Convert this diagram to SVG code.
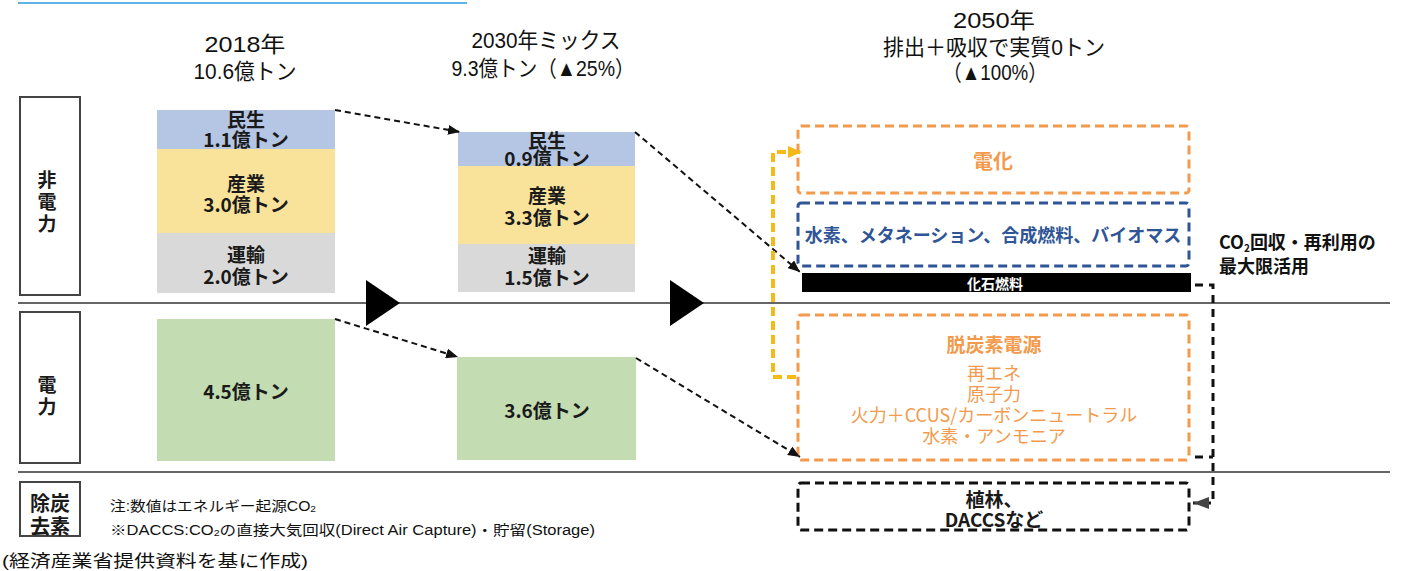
<svg xmlns="http://www.w3.org/2000/svg" width="1413" height="571" viewBox="0 0 1413 571">
<style>
.jp{font-family:'Noto Sans CJK JP',sans-serif}
.hd{font-family:'Liberation Sans','Noto Sans CJK JP',sans-serif;font-size:22px;fill:#111;text-anchor:middle;dominant-baseline:central}
.bl{font-family:'Noto Sans CJK JP',sans-serif;font-size:19px;font-weight:bold;fill:#1a1a1a;text-anchor:middle;dominant-baseline:central}
.or{font-family:'Noto Sans CJK JP',sans-serif;fill:#F39A4C;text-anchor:middle;dominant-baseline:central}
.note{font-family:'Liberation Sans','Noto Sans CJK JP',sans-serif;fill:#111;dominant-baseline:central}
.sep{stroke:#666;stroke-width:2}
.lbox{fill:none;stroke:#444;stroke-width:2}
.dash{fill:none;stroke:#111;stroke-width:2;stroke-dasharray:6 4}
.obox{fill:none;stroke:#F39A4C;stroke-width:3;stroke-dasharray:9 5}
.bbox{fill:none;stroke:#2F5597;stroke-width:3;stroke-dasharray:9 5}
.kbox{fill:none;stroke:#111;stroke-width:3;stroke-dasharray:9 5}
</style>
<defs>
<marker id="ah" markerUnits="userSpaceOnUse" markerWidth="12" markerHeight="10" viewBox="0 0 12 10" refX="12" refY="5" orient="auto"><path d="M0,0 L12,5 L0,10 z" fill="#111"/></marker>
<marker id="ahy" markerUnits="userSpaceOnUse" markerWidth="14" markerHeight="12" viewBox="0 0 14 12" refX="14" refY="6" orient="auto"><path d="M0,0 L14,6 L0,12 z" fill="#F5B918"/></marker>
<marker id="ahg" markerUnits="userSpaceOnUse" markerWidth="16" markerHeight="12" viewBox="0 0 16 12" refX="16" refY="6" orient="auto"><path d="M0,0 L16,6 L0,12 z" fill="#444"/></marker>
</defs>
<rect width="1413" height="571" fill="#fff"/>
<line x1="18" y1="3" x2="467" y2="3" stroke="#2A9BDB" stroke-width="1.5"/>

<g id="headers">
<text class="hd" x="245" y="44" textLength="81" lengthAdjust="spacingAndGlyphs">2018年</text>
<text class="hd" x="245" y="71" textLength="103" lengthAdjust="spacingAndGlyphs">10.6億トン</text>
<text class="hd" x="546" y="40" textLength="149" lengthAdjust="spacingAndGlyphs">2030年ミックス</text>
<text class="hd" x="543" y="68" textLength="183" lengthAdjust="spacingAndGlyphs">9.3億トン（▲25%）</text>
<text class="hd" x="994" y="20" textLength="82" lengthAdjust="spacingAndGlyphs">2050年</text>
<text class="hd" x="994" y="47" textLength="222" lengthAdjust="spacingAndGlyphs">排出＋吸収で実質0トン</text>
<text class="hd" x="995" y="72" textLength="104" lengthAdjust="spacingAndGlyphs">（▲100%）</text>
</g>

<g id="separators">
<line class="sep" x1="18" y1="303" x2="1390" y2="303"/>
<line class="sep" x1="18" y1="472" x2="1390" y2="472"/>
<polygon points="366,280 400,303 366,326" fill="#000"/>
<polygon points="670,280 704,303 670,326" fill="#000"/>
</g>

<g id="label-hidenryoku">
<rect class="lbox" x="20" y="97" width="60" height="198"/>
<text class="bl" x="47" y="178"><tspan x="47" y="178">非</tspan><tspan x="47" y="200">電</tspan><tspan x="47" y="222">力</tspan></text>
</g>
<g id="label-denryoku">
<rect class="lbox" x="20" y="312" width="60" height="151"/>
<text class="bl"><tspan x="47" y="383">電</tspan><tspan x="47" y="405">力</tspan></text>
</g>
<g id="label-jotanso">
<rect class="lbox" x="20" y="482" width="60" height="54"/>
<text class="bl" style="font-size:20px"><tspan x="50" y="502">除炭</tspan><tspan x="50" y="525">去素</tspan></text>
</g>

<g id="bar2018-minsei">
<rect x="157" y="110" width="178" height="39" fill="#B4C6E4"/>
<text class="bl"><tspan x="246" y="118">民生</tspan><tspan x="246" y="138">1.1億トン</tspan></text>
</g>
<g id="bar2018-sangyo">
<rect x="157" y="149" width="178" height="84" fill="#F9E29A"/>
<text class="bl"><tspan x="246" y="182">産業</tspan><tspan x="246" y="203">3.0億トン</tspan></text>
</g>
<g id="bar2018-unyu">
<rect x="157" y="233" width="178" height="60" fill="#D9D9D9"/>
<text class="bl"><tspan x="246" y="253">運輸</tspan><tspan x="246" y="275">2.0億トン</tspan></text>
</g>
<g id="bar2018-denryoku">
<rect x="157" y="319" width="178" height="142" fill="#C3DCB1"/>
<text class="bl" x="246" y="390">4.5億トン</text>
</g>

<g id="bar2030-minsei">
<rect x="458" y="132" width="177" height="34" fill="#B4C6E4"/>
<text class="bl"><tspan x="547" y="139">民生</tspan><tspan x="547" y="157">0.9億トン</tspan></text>
</g>
<g id="bar2030-sangyo">
<rect x="458" y="166" width="177" height="78" fill="#F9E29A"/>
<text class="bl"><tspan x="547" y="194">産業</tspan><tspan x="547" y="216">3.3億トン</tspan></text>
</g>
<g id="bar2030-unyu">
<rect x="458" y="244" width="177" height="48" fill="#D9D9D9"/>
<text class="bl"><tspan x="547" y="254">運輸</tspan><tspan x="547" y="276">1.5億トン</tspan></text>
</g>
<g id="bar2030-denryoku">
<rect x="457" y="357" width="179" height="103" fill="#C3DCB1"/>
<text class="bl" x="547" y="409">3.6億トン</text>
</g>

<g id="box-denka">
<rect class="obox" x="798" y="126" width="391" height="67" rx="3"/>
<text class="or" x="993" y="160" style="font-size:20px;font-weight:bold">電化</text>
</g>
<g id="box-suiso">
<rect class="bbox" x="798" y="203" width="391" height="63" rx="3"/>
<text class="jp" x="993" y="234" style="font-size:18px;font-weight:bold;fill:#2F5597;text-anchor:middle;dominant-baseline:central">水素、メタネーション、合成燃料、バイオマス</text>
</g>
<g id="box-kaseki">
<rect x="802" y="273" width="389" height="19" fill="#000"/>
<text class="jp" x="995" y="283" style="font-size:14px;font-weight:bold;fill:#fff;text-anchor:middle;dominant-baseline:central">化石燃料</text>
</g>
<g id="box-datsutanso">
<rect class="obox" x="798" y="315" width="391" height="145" rx="3"/>
<text class="or" style="font-size:18px"><tspan x="994" y="343" style="font-size:19px;font-weight:bold">脱炭素電源</tspan><tspan x="994" y="372">再エネ</tspan><tspan x="994" y="393">原子力</tspan><tspan x="994" y="414">火力＋CCUS/カーボンニュートラル</tspan><tspan x="994" y="435">水素・アンモニア</tspan></text>
</g>
<g id="box-daccs">
<rect class="kbox" x="798" y="483" width="391" height="47" rx="3"/>
<text class="bl"><tspan x="994" y="498">植林、</tspan><tspan x="994" y="518">DACCSなど</tspan></text>
</g>

<g id="label-co2">
<text class="jp" style="font-size:18px;font-weight:bold;fill:#111"><tspan x="1219" y="249">CO</tspan><tspan style="font-size:10px" dy="3">2</tspan><tspan dy="-3">回収・再利用の</tspan><tspan x="1219" y="273">最大限活用</tspan></text>
</g>

<g id="notes">
<text class="note" x="110" y="506" style="font-size:14px" textLength="206" lengthAdjust="spacingAndGlyphs">注:数値はエネルギー起源CO<tspan style="font-size:9px" dy="3">2</tspan></text>
<text class="note" x="110" y="530" style="font-size:14px" textLength="485" lengthAdjust="spacingAndGlyphs">※DACCS:CO<tspan style="font-size:9px" dy="3">2</tspan><tspan dy="-3">の直接大気回収(Direct Air Capture)・貯留(Storage)</tspan></text>
<text class="note" x="2" y="561" style="font-size:17px" textLength="306" lengthAdjust="spacingAndGlyphs">(経済産業省提供資料を基に作成)</text>
</g>

<g id="connectors">
<line class="dash" x1="335" y1="110" x2="460" y2="132" marker-end="url(#ah)"/>
<line class="dash" x1="635" y1="132" x2="800" y2="272" marker-end="url(#ah)"/>
<line class="dash" x1="335" y1="319" x2="458" y2="357" marker-end="url(#ah)"/>
<line class="dash" x1="636" y1="358" x2="800" y2="457" marker-end="url(#ah)"/>
<path d="M796,377 H773 V152 H802" fill="none" stroke="#F5B918" stroke-width="4" stroke-dasharray="9 5" marker-end="url(#ahy)"/>
<path d="M1195,285 H1213 V503 H1193" fill="none" stroke="#111" stroke-width="3" stroke-dasharray="8 6" marker-end="url(#ahg)"/>
<path d="M1195,457 H1213" fill="none" stroke="#111" stroke-width="3" stroke-dasharray="8 6"/>
</g>
</svg>
